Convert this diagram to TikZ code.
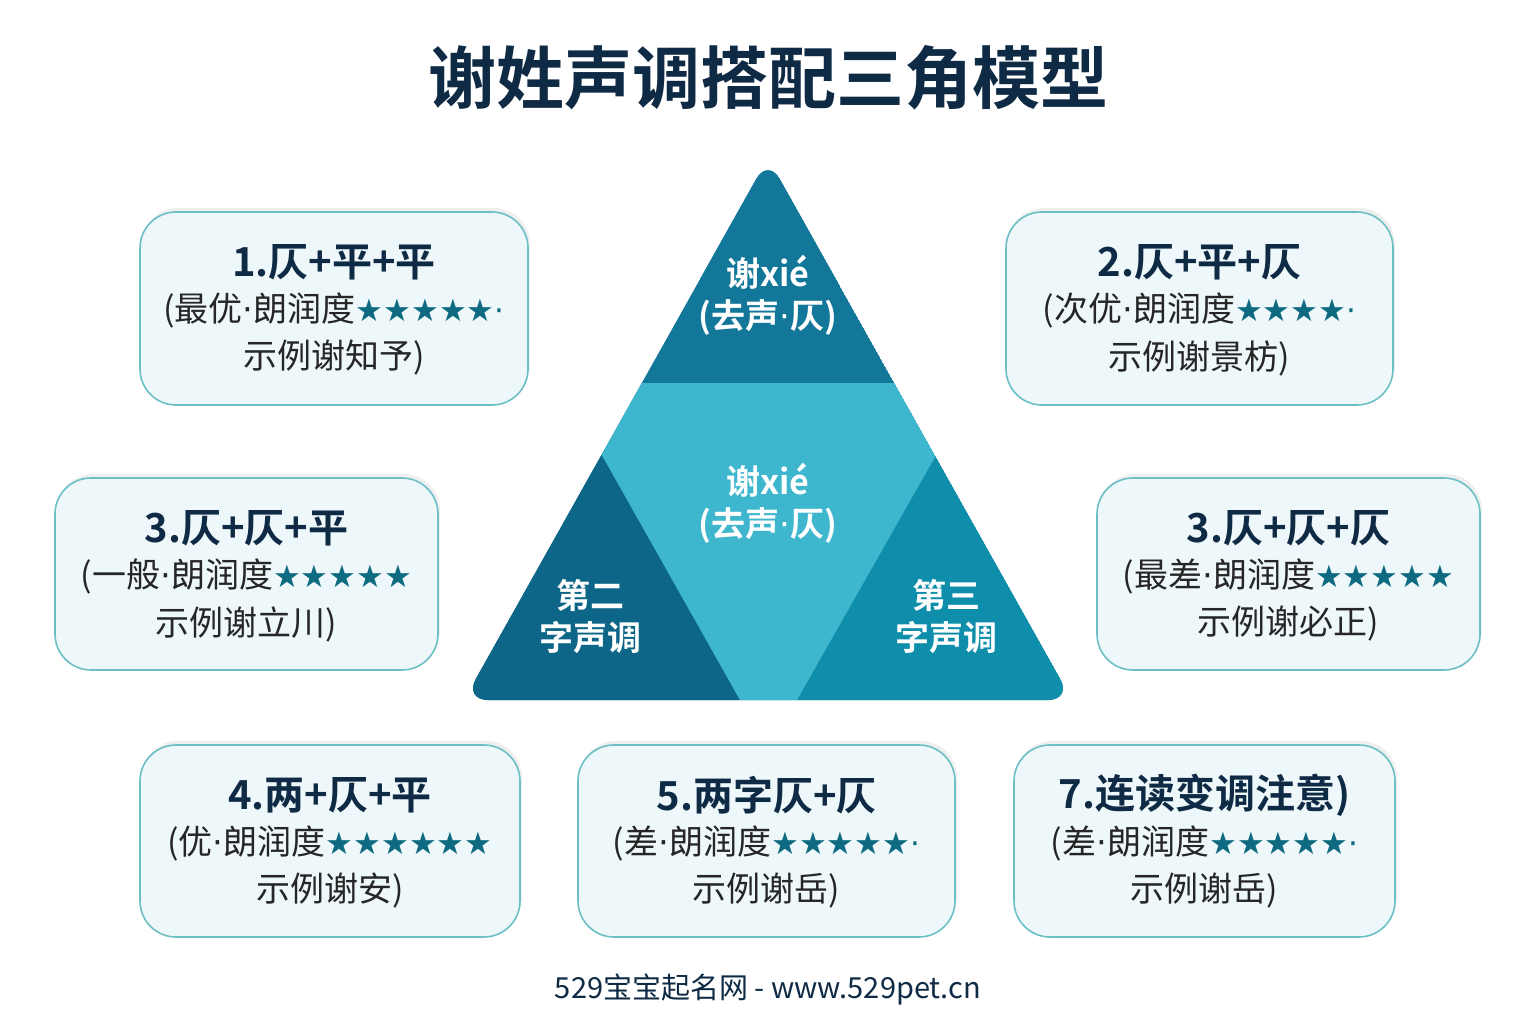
\documentclass[tikz,border=0pt]{standalone}
\usepackage{fontspec}
\setmainfont{Noto Sans CJK SC}
\newfontfamily\cjkb{Noto Sans CJK SC Bold}
\newfontfamily\starf{DejaVu Sans}
\usetikzlibrary{shadows}
\definecolor{navy}{HTML}{0F2A44}
\definecolor{bordc}{HTML}{6CBFC4}
\definecolor{boxf}{HTML}{EEF8FA}
\definecolor{starc}{HTML}{0E6A80}
\definecolor{ttop}{HTML}{13779A}
\definecolor{tmid}{HTML}{3DB6CE}
\definecolor{tleft}{HTML}{0D6688}
\definecolor{tright}{HTML}{0E8EAA}
\newcommand{\stz}[1]{{\starf\color{starc}\fontsize{31}{34}\selectfont #1}}
\newcommand{\md}{{\starf ·}}
\tikzset{
 card/.style={draw=bordc,line width=1.6pt,fill=boxf,rounded corners=36pt,drop shadow={opacity=0.12,shadow xshift=2pt,shadow yshift=4pt}},
 hd/.style={font=\cjkb\fontsize{40}{44}\selectfont,text=navy},
 ln/.style={font=\fontsize{34}{38}\selectfont,text=black!85},
 tw/.style={font=\cjkb\fontsize{34}{42}\selectfont,text=white,align=center}
}
\begin{document}
\begin{tikzpicture}[x=1pt,y=-1pt]
\useasboundingbox (0,0) rectangle (1536,1024);
\fill[white] (0,0) rectangle (1536,1024);
\node[font=\cjkb\fontsize{68}{72}\selectfont,text=navy] (title) at (768,78) {谢姓声调搭配三角模型};
% triangle
\begin{scope}
\clip[rounded corners=24pt] (768,158) -- (1072,700) -- (464,700) -- cycle;
\fill[ttop] (700,150) rectangle (840,400);
\fill[ttop] (768,158) -- (1072,700) -- (464,700) -- cycle;
\fill[tleft] (595,443) -- (740,700) -- (440,700) -- cycle;
\fill[tright] (943,443) -- (1100,700) -- (797,700) -- cycle;
\fill[tmid] (626,383) -- (910,383) -- (943,443) -- (797,700) -- (740,700) -- (595,443) -- cycle;
\end{scope}
\node[tw] (t1) at (768,295) {谢xié\\(去声\md 仄)};
\node[tw] (t2) at (768,503) {谢xié\\(去声\md 仄)};
\node[tw] (t3) at (590,617) {第二\\字声调};
\node[tw] (t4) at (946,617) {第三\\字声调};
% cards
\newcommand{\card}[8]{%
 \draw[card] (#2,#3) rectangle (#4,#5);
 \node[hd] (#1h) at ({(#2+#4)/2},{#3+50}) {#6};
 \node[ln] (#1a) at ({(#2+#4)/2},{#3+98}) {#7};
 \node[ln] (#1b) at ({(#2+#4)/2},{#3+146}) {#8};
}
\card{c1}{140}{212}{528}{405}{1.仄+平+平}{(最优\md 朗润度\stz{★★★★★·}}{示例谢知予)}
\card{c2}{1006}{212}{1393}{405}{2.仄+平+仄}{(次优\md 朗润度\stz{★★★★·}}{示例谢景枋)}
\card{c3}{55}{478}{438}{670}{3.仄+仄+平}{(一般\md 朗润度\stz{★★★★★}}{示例谢立川)}
\card{c4}{1097}{478}{1480}{670}{3.仄+仄+仄}{(最差\md 朗润度\stz{★★★★★}}{示例谢必正)}
\card{c5}{140}{745}{520}{937}{4.两+仄+平}{(优\md 朗润度\stz{★★★★★★}}{示例谢安)}
\card{c6}{578}{745}{955}{937}{5.两字仄+仄}{(差\md 朗润度\stz{★★★★★·}}{示例谢岳)}
\card{c7}{1014}{745}{1395}{937}{7.连读变调注意)}{(差\md 朗润度\stz{★★★★★·}}{示例谢岳)}
\node[font=\fontsize{29}{32}\selectfont,text=navy] (foot) at (768,990) {529宝宝起名网 - www.529pet.cn};
\end{tikzpicture}
\end{document}
